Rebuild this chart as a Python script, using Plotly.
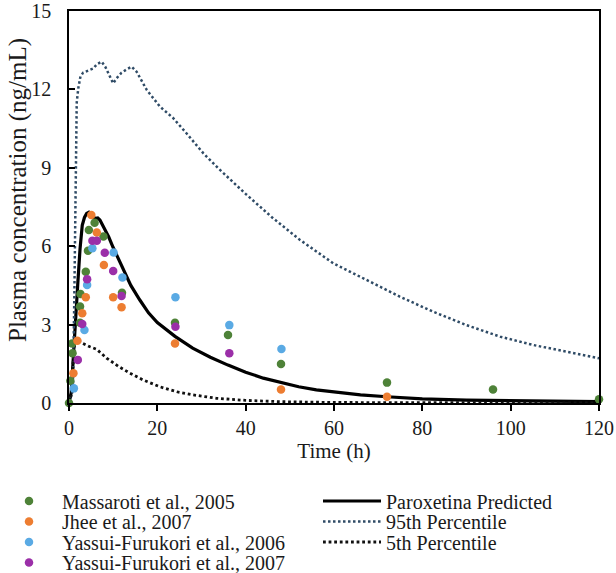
import plotly.graph_objects as go

# ---- observed data ----
massaroti_t = [0, 0.3, 0.7, 0.8, 2.5, 2.5, 2.6, 3.8, 4.3, 4.5, 5.8, 7.8, 12, 24, 36, 48, 72, 96, 120]
massaroti_c = [0, 0.85, 2.28, 1.9, 3.07, 3.69, 4.17, 5.02, 5.83, 6.62, 6.9, 6.37, 4.22, 3.07, 2.6, 1.49, 0.78, 0.52, 0.14]

jhee_t = [1.0, 1.9, 3.0, 3.8, 5.05, 6.3, 7.9, 10, 11.9, 24, 48, 72]
jhee_c = [1.14, 2.38, 3.43, 4.05, 7.19, 6.52, 5.28, 4.05, 3.66, 2.28, 0.52, 0.24]

yf2006_t = [1.1, 3.5, 4.1, 5.3, 10.1, 12.1, 24.1, 36.3, 48.1]
yf2006_c = [0.56, 2.79, 4.52, 5.92, 5.76, 4.8, 4.05, 2.98, 2.07]

yf2007_t = [2.0, 3.0, 4.1, 5.3, 6.3, 8.1, 10, 11.9, 24.1, 36.3]
yf2007_c = [1.65, 3.02, 4.74, 6.21, 6.21, 5.75, 5.05, 4.09, 2.92, 1.9]

# ---- simulated curves ----
pred_t = [0, 0.5, 1, 1.5, 2, 2.5, 3, 3.5, 4, 4.5, 5, 5.5, 6, 6.5, 7, 8, 9, 10, 12, 14, 16, 18,
          20, 24, 28, 32, 36, 40, 44, 48, 52, 56, 60, 66, 72, 80, 90, 100, 110, 120]
pred_c = [0, 0.4, 1.8, 3.4, 4.6, 5.9, 6.8, 7.1, 7.25, 7.3, 7.2, 7.1, 7.07, 7.08, 7.0, 6.7, 6.35,
          5.95, 5.2, 4.5, 3.95, 3.45, 3.08, 2.55, 2.1, 1.75, 1.45, 1.18, 0.95, 0.78, 0.62, 0.5,
          0.42, 0.31, 0.24, 0.16, 0.11, 0.08, 0.06, 0.05]

p95_t = [0, 0.9, 1.2, 1.5, 1.75, 2.1, 2.6, 3.2, 4.4, 5.5, 6.3, 7.4, 8.2, 8.9, 10, 10.8, 11.9, 13.1,
         14.2, 15.3, 17.6, 20.6, 23.6, 26.6, 30.4, 33.8, 40, 46, 52.3, 59.8, 67.4, 74.9, 82.5, 90,
         97.6, 105.1, 112.7, 120]
p95_c = [0, 0.5, 4.0, 8.0, 11.5, 12.04, 12.5, 12.64, 12.74, 12.8, 12.96, 13.06, 12.87, 12.6, 12.23,
         12.43, 12.64, 12.77, 12.87, 12.68, 11.98, 11.34, 10.9, 10.32, 9.56, 8.98, 8.0, 7.1, 6.24,
         5.35, 4.71, 4.07, 3.49, 2.98, 2.54, 2.22, 1.96, 1.71]

p5_t = [0, 0.5, 0.9, 1.3, 1.7, 2.9, 4.75, 6.3, 8.5, 11.2, 13.8, 16.8, 20.6, 24.4, 28.1, 33.4, 40,
        48, 60, 80, 100, 120]
p5_c = [0, 0.3, 1.5, 2.3, 2.45, 2.3, 2.15, 2.05, 1.72, 1.4, 1.14, 0.88, 0.62, 0.43, 0.31, 0.18,
        0.1, 0.05, 0.02, 0.01, 0.0, 0.0]

x_ticks = [0, 20, 40, 60, 80, 100, 120]
y_ticks = [0, 3, 6, 9, 12, 15]

FONT = "Liberation Serif"
TXT = "#1a1a1a"
L, R, T, B = 69, 17, 11, 170
W, H = 616, 573
PH = H - T - B
PW = W - L - R


def py(y):
    return (H - B - y) / PH


def px(x):
    return (x - L) / PW


fig = go.Figure()

lines = [
    ("Paroxetina Predicted", pred_t, pred_c, dict(color="black", width=3.2, dash="solid")),
    ("95th Percentile", p95_t, p95_c, dict(color="#2F4B66", width=2.5, dash="2.5px,2.5px")),
    ("5th Percentile", p5_t, p5_c, dict(color="#111111", width=2.8, dash="2.8px,2.8px")),
]
right_rows = [501, 521.5, 542]
for i, (name, t, c, ln) in enumerate(lines):
    lg = "legend%d" % (i + 5)
    fig.add_trace(go.Scatter(x=t, y=c, mode="lines", name=name, line=ln,
                             legend=lg, showlegend=True))

pts = [
    ("Massaroti et al., 2005", massaroti_t, massaroti_c, "#4E8238"),
    ("Jhee et al., 2007", jhee_t, jhee_c, "#ED7D31"),
    ("Yassui-Furukori et al., 2006", yf2006_t, yf2006_c, "#5AAAE4"),
    ("Yassui-Furukori et al., 2007", yf2007_t, yf2007_c, "#9B2FA8"),
]
left_rows = [501, 521.5, 542, 562.5]
for i, (name, t, c, col) in enumerate(pts):
    lg = "legend" if i == 0 else "legend%d" % (i + 1)
    fig.add_trace(go.Scatter(x=t, y=c, mode="markers", name=name,
                             marker=dict(color=col, size=8.5, line=dict(width=0)),
                             legend=lg, showlegend=True, cliponaxis=False))

legend_common = dict(font=dict(family=FONT, size=20, color=TXT),
                     bgcolor="rgba(0,0,0,0)", yanchor="middle", xanchor="left",
                     borderwidth=0, tracegroupgap=0)
layout_legends = {}
for i, y in enumerate(left_rows):
    key = "legend" if i == 0 else "legend%d" % (i + 1)
    layout_legends[key] = dict(x=px(-4), y=py(y), itemwidth=56, **legend_common)
for i, y in enumerate(right_rows):
    key = "legend%d" % (i + 5)
    layout_legends[key] = dict(x=px(318), y=py(y), itemwidth=58, **legend_common)

fig.update_layout(
    width=W, height=H,
    margin=dict(l=L, r=R, t=T, b=B, pad=0, autoexpand=False),
    paper_bgcolor="white", plot_bgcolor="white",
    showlegend=True,
    font=dict(family=FONT, size=20, color=TXT),
    annotations=[dict(text="Plasma concentration (ng/mL)", textangle=-90,
                      xref="paper", yref="paper", x=px(18), y=py(190),
                      xanchor="center", yanchor="middle", showarrow=False,
                      font=dict(family=FONT, size=25, color=TXT))],
    **layout_legends,
)

fig.update_xaxes(range=[0, 120], tickvals=x_ticks, ticks="outside", ticklen=6,
                 tickwidth=1.5, tickcolor="black", showline=True, linecolor="black",
                 linewidth=1.6, mirror=True, showgrid=False, zeroline=False,
                 tickfont=dict(family=FONT, size=20, color=TXT),
                 title=dict(text="Time (h)", font=dict(family=FONT, size=21, color=TXT),
                            standoff=6))
fig.update_yaxes(range=[0, 15], tickvals=y_ticks, ticks="inside", ticklen=6,
                 tickwidth=1.5, tickcolor="black", showline=True, linecolor="black",
                 linewidth=1.6, mirror=True, showgrid=False, zeroline=False,
                 ticklabelstandoff=12,
                 tickfont=dict(family=FONT, size=20, color=TXT))

fig.write_html("out.html")
